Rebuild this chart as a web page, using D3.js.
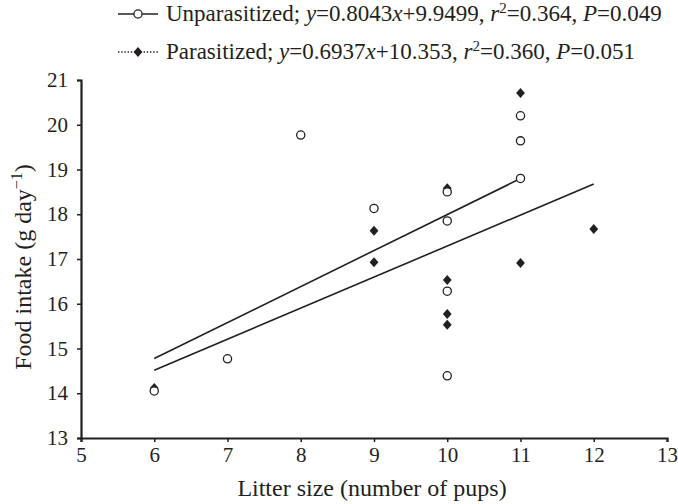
<!DOCTYPE html>
<html><head><meta charset="utf-8">
<script src="https://cdn.jsdelivr.net/npm/d3@7"></script>
<style>
html,body{margin:0;padding:0;background:#fff;}
svg text{font-family:"Liberation Serif","Times New Roman",serif;fill:#231f20;}
</style></head>
<body><svg id="c" width="678" height="504"></svg>
<script>
const xTicks = [5,6,7,8,9,10,11,12,13];
const yTicks = [13,14,15,16,17,18,19,20,21];
const unparX = [6,7,8,9,10,10,10,10,11,11,11];
const unparY = [14.05,14.77,19.77,18.13,18.5,17.85,16.28,14.39,18.8,19.64,20.2];
const parX = [6,9,9,10,10,10,10,11,11,12];
const parY = [14.12,17.63,16.93,18.58,16.53,15.77,15.53,20.71,16.91,17.67];
const fitUnpar = {slope:0.8043, intercept:9.9499, x0:6, x1:11};
const fitPar = {slope:0.6937, intercept:10.353, x0:6, x1:12};
const ink = "#231f20";

const svg = d3.select("#c");
const m = {l:81, r:11, t:80, b:66};
const W = 678, H = 504;
const x = d3.scaleLinear().domain([5,13]).range([m.l, W-m.r]);
const y = d3.scaleLinear().domain([13,21]).range([H-m.b, m.t]);

// axes
const xa = svg.append("g").attr("transform",`translate(0,${y(13)})`)
  .call(d3.axisBottom(x).tickValues(xTicks).tickSize(4).tickPadding(5).tickFormat(d3.format("d")));
const ya = svg.append("g").attr("transform",`translate(${x(5)},0)`)
  .call(d3.axisLeft(y).tickValues(yTicks).tickSize(4).tickPadding(9).tickFormat(d3.format("d")));
[xa,ya].forEach(a=>{
  a.select(".domain").attr("stroke",ink).attr("stroke-width",2.2);
  a.selectAll(".tick line").attr("stroke",ink).attr("stroke-width",1.5);
  a.selectAll(".tick text").attr("font-size",21).attr("fill",ink)
   .attr("font-family","Liberation Serif, serif");
});

// axis titles
svg.append("text").attr("x",(x(5)+x(13))/2 - 2).attr("y",496).attr("text-anchor","middle")
  .attr("font-size",24).text("Litter size (number of pups)");
const yt = svg.append("text").attr("transform",`translate(31,${(y(13)+y(21))/2 + 8}) rotate(-90)`)
  .attr("text-anchor","middle").attr("font-size",24);
yt.append("tspan").text("Food intake (g day");
yt.append("tspan").attr("font-size",16).attr("dy",-9).text("\u22121");
yt.append("tspan").attr("dy",9).text(")");

// regression lines
[fitUnpar, fitPar].forEach(f=>{
  svg.append("line")
    .attr("x1",x(f.x0)).attr("y1",y(f.slope*f.x0+f.intercept))
    .attr("x2",x(f.x1)).attr("y2",y(f.slope*f.x1+f.intercept))
    .attr("stroke",ink).attr("stroke-width",1.6);
});

// markers
function drawDiamond(g, cx, cy){
  const hw = 4.4, hh = 5;
  g.append("path").attr("d",`M${cx},${cy-hh}L${cx+hw},${cy}L${cx},${cy+hh}L${cx-hw},${cy}Z`)
   .attr("fill",ink).attr("stroke","none");
}
function drawCircle(g, cx, cy){
  g.append("circle").attr("cx",cx).attr("cy",cy).attr("r",4.1)
   .attr("fill","#fff").attr("stroke",ink).attr("stroke-width",1.3);
}
const pts = svg.append("g");
parX.forEach((d,i)=>drawDiamond(pts, x(d), y(parY[i])));
unparX.forEach((d,i)=>drawCircle(pts, x(d), y(unparY[i])));

// legend
const lg = svg.append("g");
function legendText(g, xx, yy, name, slope, inter, r2, p){
  const t = g.append("text").attr("x",xx).attr("y",yy).attr("font-size",23);
  t.append("tspan").text(name+"; ");
  t.append("tspan").attr("font-style","italic").text("y");
  t.append("tspan").text("="+slope);
  t.append("tspan").attr("font-style","italic").text("x");
  t.append("tspan").text("+"+inter+", ");
  t.append("tspan").attr("font-style","italic").text("r");
  t.append("tspan").attr("font-size",15).attr("dy",-8).text("2");
  t.append("tspan").attr("dy",8).text("=" + r2 + ", ");
  t.append("tspan").attr("font-style","italic").text("P");
  t.append("tspan").text("="+p);
}
const lx0 = 118, lx1 = 158, lmx = 138, ltx = 166;
const ly1 = 14, ly2 = 52;
lg.append("line").attr("x1",lx0).attr("x2",lx1).attr("y1",ly1).attr("y2",ly1)
  .attr("stroke",ink).attr("stroke-width",1.4);
drawCircle(lg, lmx, ly1);
legendText(lg, ltx, 21, "Unparasitized", "0.8043", "9.9499", "0.364", "0.049");
lg.append("line").attr("x1",lx0).attr("x2",lx1).attr("y1",ly2).attr("y2",ly2)
  .attr("stroke",ink).attr("stroke-width",1.4).attr("stroke-dasharray","1.4,1.8");
drawDiamond(lg, lmx, ly2);
legendText(lg, ltx, 59, "Parasitized", "0.6937", "10.353", "0.360", "0.051");
</script></body></html>
